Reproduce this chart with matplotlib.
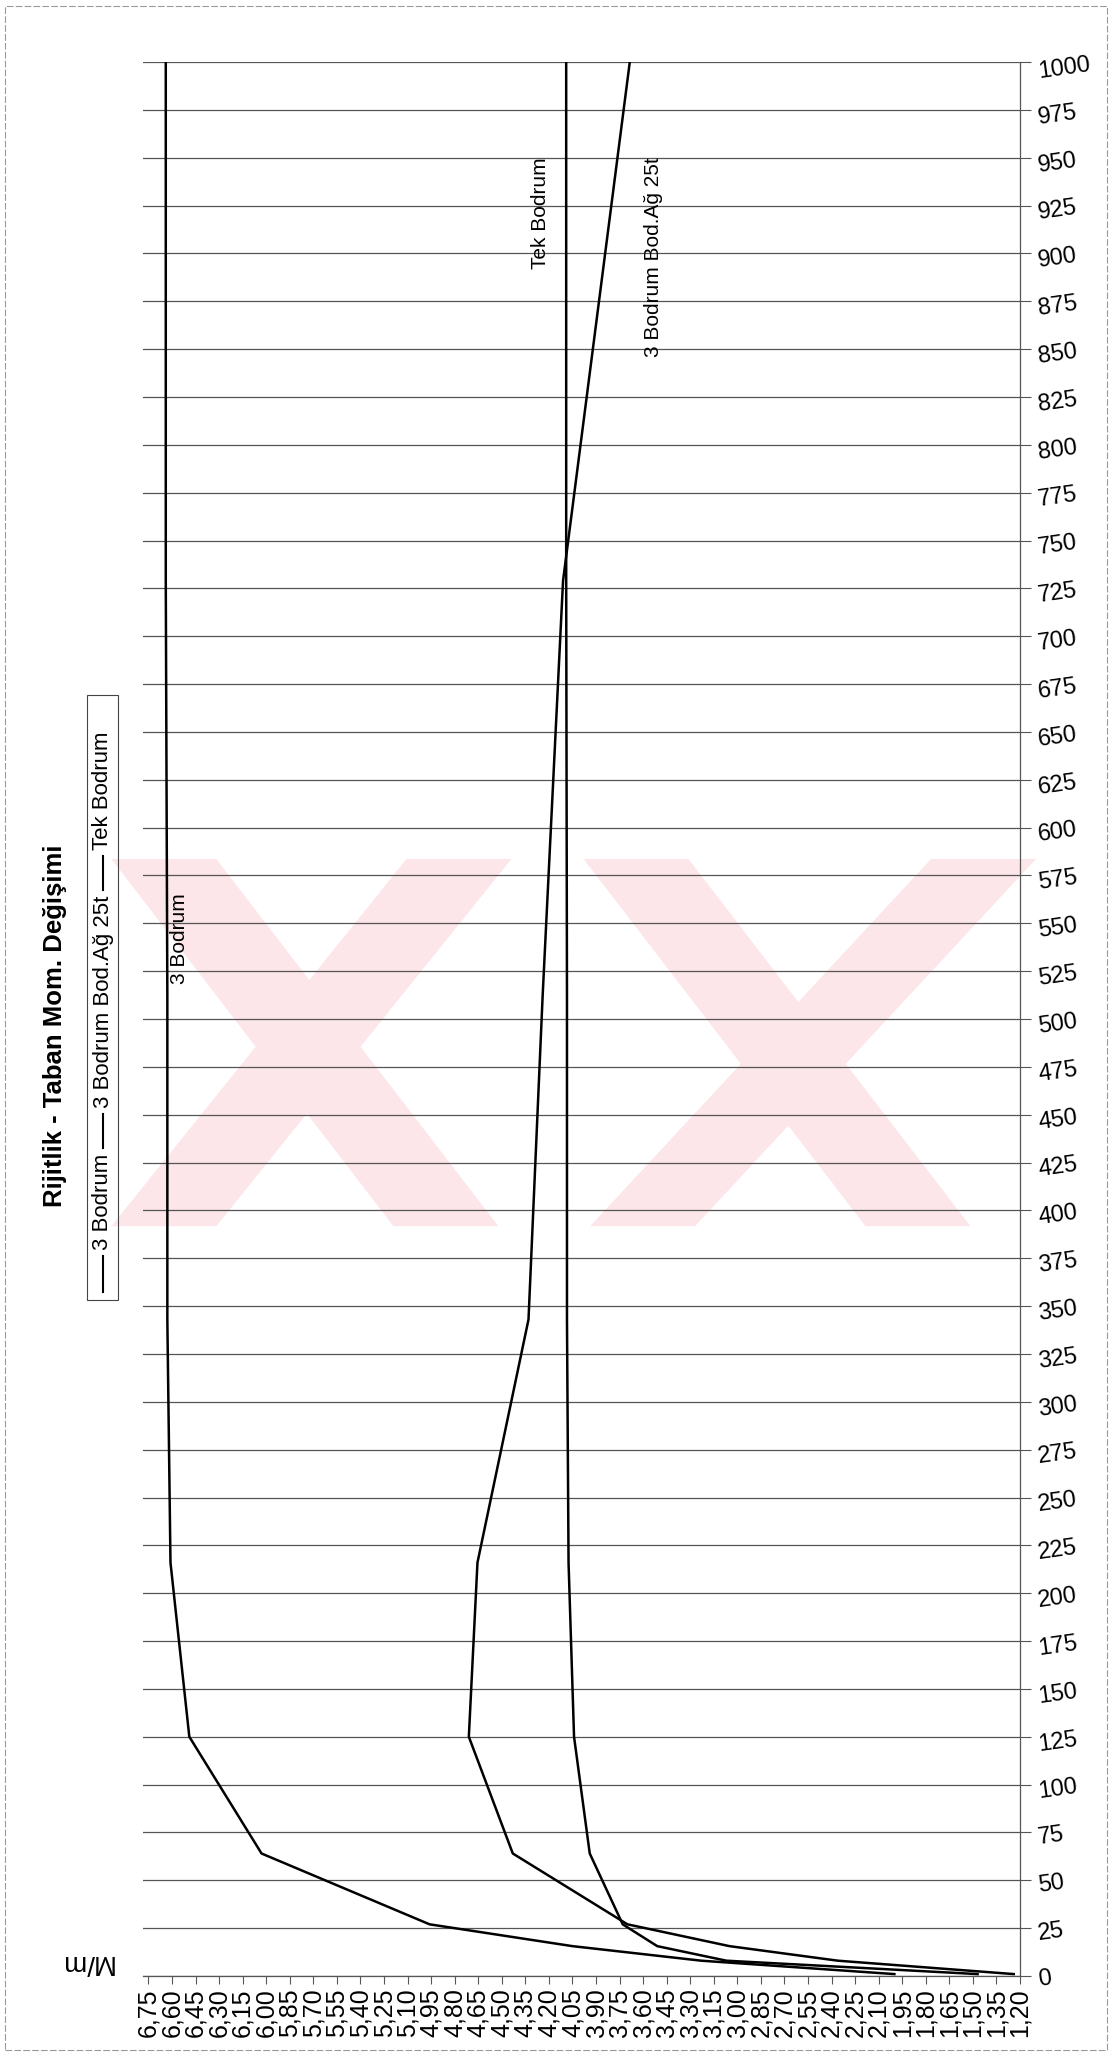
import numpy as np
import matplotlib
matplotlib.use("Agg")
import matplotlib.pyplot as plt
from matplotlib.patches import Rectangle, Polygon
from matplotlib.lines import Line2D

plt.rcParams['font.family'] = ['Liberation Sans', 'DejaVu Sans']

# rigidity values (vertical axis) and M/m readings (horizontal axis)
rijitlik = [1, 8, 15.6, 27, 64, 125, 216, 343, 512, 729, 1000]
bodrum3 = [2.00, 3.23, 4.05, 4.96, 6.03, 6.49, 6.61, 6.63, 6.63, 6.64, 6.64]
bodrum3_ag25t = [1.24, 2.36, 3.05, 3.70, 4.43, 4.71, 4.655, 4.33, 4.24, 4.11, 3.685]
tek_bodrum = [1.47, 3.07, 3.51, 3.73, 3.94, 4.04, 4.075, 4.085, 4.085, 4.09, 4.09]

x_ticks = np.round(np.arange(1.20, 6.751, 0.15), 2)
y_ticks = np.arange(0, 1001, 25)

W, H = 1116, 2056
fig = plt.figure(figsize=(W / 100, H / 100), dpi=100)


def fx(px):
    return px / W


def fy(py):
    return 1 - py / H


# faint scan watermark
pink = '#fde6e9'
s = 1.3114
bands = [
    [(85, 655), (165, 655), (380, 935), (300, 935)],
    [(310, 655), (390, 655), (165, 935), (85, 935)],
    [(445, 655), (525, 655), (740, 935), (660, 935)],
    [(710, 655), (790, 655), (530, 935), (450, 935)],
]
for b in bands:
    pts = [(fx(x * s), fy(y * s)) for x, y in b]
    fig.patches.append(Polygon(pts, closed=True, facecolor=pink, edgecolor='none',
                               transform=fig.transFigure, zorder=-5))

# outer border
fig.patches.append(Rectangle((fx(5), fy(2050)), fx(1102), (2050 - 6) / H, fill=False,
                             edgecolor='#999999', lw=0.8, linestyle=(0, (6, 2)),
                             transform=fig.transFigure))

ax = fig.add_axes([fx(143), fy(1976), fx(1020 - 143), (1976 - 62) / H])
ax.patch.set_alpha(0)

ax.plot(bodrum3, rijitlik, color='black', lw=1.8, label='3 Bodrum')
ax.plot(bodrum3_ag25t, rijitlik, color='black', lw=1.8, label='3 Bodrum Bod.Ağ 25t')
ax.plot(tek_bodrum, rijitlik, color='black', lw=1.8, label='Tek Bodrum')

ax.set_xlim(6.785, 1.20)
ax.set_ylim(0, 1000)
ax.set_xticks(x_ticks)
ax.set_xticklabels([f"{v:.2f}".replace('.', ',') for v in x_ticks], rotation=90, fontsize=18)
ax.set_yticks(y_ticks)
ax.yaxis.tick_right()
ax.set_yticklabels([str(v) for v in y_ticks], rotation=8, fontsize=17)
ax.tick_params(axis='x', direction='out', length=6, width=0.8, color='#555555', pad=3)
ax.tick_params(axis='y', direction='out', length=8, width=0.8, color='#555555', pad=4)
ax.yaxis.grid(True, color='#555555', lw=0.9)
ax.set_axisbelow(True)
for side in ['top', 'left']:
    ax.spines[side].set_visible(False)
for side in ['right', 'bottom']:
    ax.spines[side].set_color('#555555')
    ax.spines[side].set_linewidth(0.9)
    ax.spines[side].set_linestyle((0, (4, 1)))

# curve labels
ax.text(4.255, 921, 'Tek Bodrum', rotation=90, fontsize=15, ha='center', va='center')
ax.text(3.535, 898, '3 Bodrum Bod.Ağ 25t', rotation=90, fontsize=15, ha='center', va='center')
ax.text(6.55, 542, '3 Bodrum', rotation=90, fontsize=15, ha='center', va='center')

# title and axis label
fig.text(fx(55), fy(1026), 'Rijitlik - Taban Mom. Değişimi', rotation=90, fontsize=18.5,
         fontweight='bold', ha='center', va='center')
fig.text(fx(86), fy(1962), 'M/m', rotation=180, fontsize=20, ha='center', va='center')

# legend drawn rotated by hand
fig.patches.append(Rectangle((fx(87), fy(1300)), fx(31), (1300 - 695) / H, fill=False,
                             edgecolor='#444444', lw=0.8, transform=fig.transFigure))
entries = [(1292, 1256, 1250, '3 Bodrum'),
           (1148, 1114, 1108, '3 Bodrum Bod.Ağ 25t'),
           (890, 856, 850, 'Tek Bodrum')]
lx = 103
for y0, y1, yt, name in entries:
    fig.lines.append(Line2D([fx(lx), fx(lx)], [fy(y0), fy(y1)], color='black', lw=1.5,
                            transform=fig.transFigure))
    fig.text(fx(lx), fy(yt), name, rotation=90, fontsize=16, ha='left', va='center',
             rotation_mode='anchor')

fig.savefig('out.png', dpi=100)
